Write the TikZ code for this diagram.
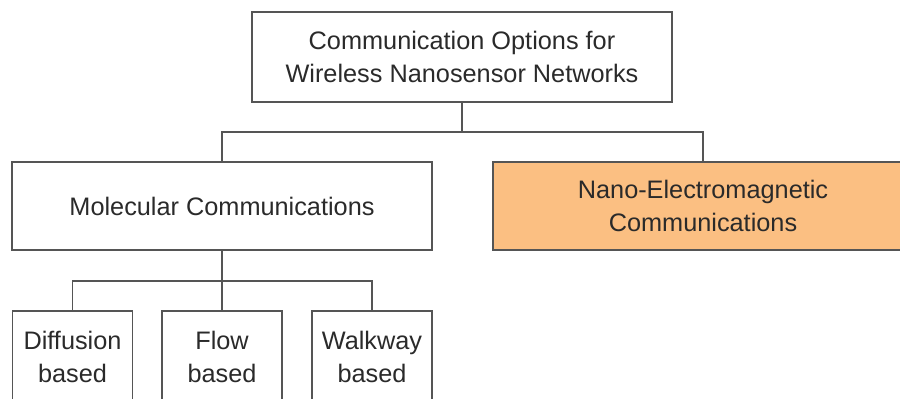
\documentclass[tikz,border=0pt]{standalone}
\usepackage{fontspec}
\setmainfont{Liberation Sans}
\definecolor{linegray}{HTML}{555555}
\definecolor{txt}{HTML}{2A2A2A}
\definecolor{nanofill}{HTML}{FBBF82}
\begin{document}
\begin{tikzpicture}[x=1pt,y=-1pt,
  boxstyle/.style={draw=linegray, line width=1.8pt, rectangle, align=center,
    text=txt, font=\fontsize{25.3}{33}\selectfont, inner sep=0pt},
  conn/.style={draw=linegray, line width=1.8pt}]
\useasboundingbox (0,0) rectangle (900,399);
\clip (0,0) rectangle (900,399);
\node[boxstyle, minimum width=420pt, minimum height=90pt] (top) at (462,57)
  {Communication Options for\\Wireless Nanosensor Networks};
\node[boxstyle, minimum width=420pt, minimum height=88pt] (mol) at (222,206)
  {Molecular Communications};
\node[boxstyle, fill=nanofill, minimum width=420pt, minimum height=88pt] (nano) at (703,206)
  {Nano-Electromagnetic\\Communications};
\node[boxstyle, minimum width=120pt, minimum height=92pt] (diff) at (72.5,357)
  {Diffusion\\based};
\node[boxstyle, minimum width=120pt, minimum height=92pt] (flow) at (222,357)
  {Flow\\based};
\node[boxstyle, minimum width=120pt, minimum height=92pt] (walk) at (372,357)
  {Walkway\\based};
\coordinate (j1) at (462,132);
\coordinate (j2) at (222,281);
\draw[conn] (top.south) -- (j1);
\draw[conn] (j1) -| (mol.north);
\draw[conn] (j1) -| (nano.north);
\draw[conn] (mol.south) -- (j2);
\draw[conn] (j2) -| (diff.north);
\draw[conn] (j2) -| (walk.north);
\draw[conn] (j2) -- (flow.north);
\end{tikzpicture}
\end{document}
